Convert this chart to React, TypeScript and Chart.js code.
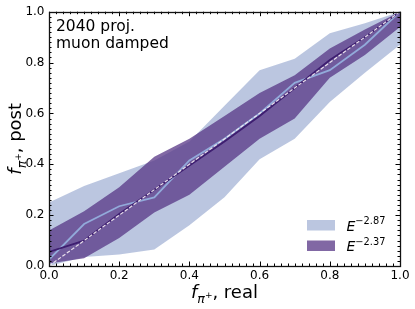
import React, { useEffect, useRef } from "react";
import { Chart, registerables } from "chart.js";

Chart.register(...registerables);

// ---- data ----
const realFraction = [0, 0.1, 0.2, 0.3, 0.4, 0.5, 0.6, 0.7, 0.8, 0.9, 1.0];
const softLower = [0.0, 0.035, 0.045, 0.065, 0.16, 0.27, 0.42, 0.5, 0.645, 0.76, 0.87];
const softUpper = [0.25, 0.315, 0.365, 0.415, 0.49, 0.63, 0.77, 0.815, 0.915, 0.955, 1.0];
const softMedian = [0.025, 0.165, 0.235, 0.27, 0.415, 0.5, 0.6, 0.72, 0.77, 0.87, 1.0];
const hardLower = [0.01, 0.03, 0.11, 0.21, 0.28, 0.39, 0.5, 0.58, 0.74, 0.83, 0.94];
const hardUpper = [0.14, 0.215, 0.31, 0.43, 0.5, 0.59, 0.68, 0.75, 0.855, 0.93, 1.0];
const hardMedian = [0.055, 0.1, 0.205, 0.3, 0.395, 0.49, 0.59, 0.7, 0.81, 0.9, 1.0];
const diagonalX = [0, 1];
const diagonalY = [0, 1];
const tickValues = [0, 0.2, 0.4, 0.6, 0.8, 1.0];
const minorStep = 0.02;
const legendBase = ["E", "E"];
const legendExponent = ["\u22122.87", "\u22122.37"];
const annotationLines = ["2040 proj.", "muon damped"];

const FONT = "'DejaVu Sans', sans-serif";
const LIGHT = "rgba(141,160,203,0.6)";
const DARK = "rgba(90,56,136,0.76)";

type Seg = { t: string; size: number; italic?: boolean; dy?: number };

function segFont(s: Seg) {
  return `${s.italic ? "italic " : ""}${s.size}px ${FONT}`;
}

function drawSegs(ctx: CanvasRenderingContext2D, segs: Seg[], x: number, y: number, align: "left" | "center") {
  let total = 0;
  for (const s of segs) {
    ctx.font = segFont(s);
    total += ctx.measureText(s.t).width;
  }
  let cx = align === "center" ? x - total / 2 : x;
  ctx.textAlign = "left";
  ctx.textBaseline = "alphabetic";
  for (const s of segs) {
    ctx.font = segFont(s);
    ctx.fillText(s.t, cx, y + (s.dy || 0));
    cx += ctx.measureText(s.t).width;
  }
}

const pts = (xs: number[], ys: number[]) => xs.map((x, i) => ({ x, y: ys[i] }));

const overlay = {
  id: "overlay",
  afterDatasetsDraw(chart: any) {
    const { ctx, chartArea: a, scales } = chart;
    const xs = scales.x;
    const ys = scales.y;
    ctx.save();
    ctx.strokeStyle = "#000";
    ctx.lineWidth = 1;
    const nMinor = Math.round(1 / minorStep);
    ctx.beginPath();
    for (let i = 0; i <= nMinor; i++) {
      const v = i * minorStep;
      const isMajor = tickValues.some((t) => Math.abs(t - v) < 1e-6);
      const len = isMajor ? 4.5 : 2.5;
      const px = Math.round(xs.getPixelForValue(v)) + 0.5;
      ctx.moveTo(px, a.bottom);
      ctx.lineTo(px, a.bottom - len);
      ctx.moveTo(px, a.top);
      ctx.lineTo(px, a.top + len);
      const py = Math.round(ys.getPixelForValue(v)) + 0.5;
      ctx.moveTo(a.left, py);
      ctx.lineTo(a.left + len, py);
      ctx.moveTo(a.right, py);
      ctx.lineTo(a.right - len, py);
    }
    ctx.stroke();
    ctx.lineWidth = 1.3;
    ctx.strokeStyle = "#111";
    ctx.strokeRect(Math.round(a.left) + 0.5, Math.round(a.top) + 0.5, Math.round(a.right - a.left), Math.round(a.bottom - a.top));
    ctx.restore();
  },
  afterDraw(chart: any) {
    const { ctx, chartArea: a } = chart;
    ctx.save();
    ctx.fillStyle = "#000";
    // annotation
    ctx.font = `15.5px ${FONT}`;
    ctx.textAlign = "left";
    ctx.textBaseline = "alphabetic";
    ctx.fillText(annotationLines[0], a.left + 7, a.top + 19);
    ctx.fillText(annotationLines[1], a.left + 7, a.top + 36);

    // x title
    const xt: Seg[] = [
      { t: "f", size: 18, italic: true },
      { t: "\u03c0", size: 12.5, italic: true, dy: 5 },
      { t: "+", size: 9, dy: 0 },
      { t: ", real", size: 18 },
    ];
    drawSegs(ctx, xt, (a.left + a.right) / 2, 297.5, "center");

    // y title
    ctx.save();
    ctx.translate(21, (a.top + a.bottom) / 2);
    ctx.rotate(-Math.PI / 2);
    const yt: Seg[] = [
      { t: "f", size: 18, italic: true },
      { t: "\u03c0", size: 12.5, italic: true, dy: 5 },
      { t: "+", size: 9, dy: 0 },
      { t: ", post", size: 18 },
    ];
    drawSegs(ctx, yt, 0, 0, "center");
    ctx.restore();

    // legend
    const colors = [chart.data.datasets[1].backgroundColor, chart.data.datasets[3].backgroundColor];
    const rowTop = [220, 240.5];
    for (let i = 0; i < 2; i++) {
      ctx.fillStyle = colors[i];
      ctx.fillRect(307, rowTop[i], 28, 10.5);
      ctx.fillStyle = "#000";
      drawSegs(
        ctx,
        [
          { t: legendBase[i], size: 14, italic: true },
          { t: legendExponent[i], size: 9.8, dy: -6.5 },
        ],
        346.5,
        rowTop[i] + 10.5,
        "left"
      );
    }
    ctx.restore();
  },
};

export default function App() {
  const ref = useRef<HTMLCanvasElement | null>(null);
  useEffect(() => {
    if (!ref.current) return;
    Chart.defaults.font.family = FONT;
    const chart = new Chart(ref.current, {
      type: "line",
      data: {
        datasets: [
          { data: pts(realFraction, softUpper), borderWidth: 0, borderColor: "transparent", pointRadius: 0, fill: false, order: 10, backgroundColor: LIGHT },
          { data: pts(realFraction, softLower), borderWidth: 0, borderColor: "transparent", pointRadius: 0, fill: "-1", order: 10, backgroundColor: LIGHT },
          { data: pts(realFraction, hardUpper), borderWidth: 0, borderColor: "transparent", pointRadius: 0, fill: false, order: 8, backgroundColor: DARK },
          { data: pts(realFraction, hardLower), borderWidth: 0, borderColor: "transparent", pointRadius: 0, fill: "-1", order: 8, backgroundColor: DARK },
          { data: pts(realFraction, softMedian), borderWidth: 1.8, borderColor: "rgb(146,170,218)", pointRadius: 0, fill: false, order: 5 },
          { data: pts(realFraction, hardMedian), borderWidth: 1.8, borderColor: "rgb(62,30,112)", pointRadius: 0, fill: false, order: 4 },
          { data: pts(diagonalX, diagonalY), borderWidth: 1.2, borderColor: "rgba(240,232,240,0.95)", borderDash: [3.7, 1.8], pointRadius: 0, fill: false, order: 1 },
        ],
      } as any,
      options: {
        responsive: false,
        animation: false,
        layout: { padding: { left: 0, right: 15, top: 10, bottom: 0 } },
        plugins: { legend: { display: false }, tooltip: { enabled: false } },
        elements: { line: { tension: 0 } },
        scales: {
          x: {
            type: "linear",
            min: 0,
            max: 1,
            grid: { display: false, drawTicks: false },
            border: { display: false },
            afterBuildTicks: (s: any) => {
              s.ticks = tickValues.map((v) => ({ value: v }));
            },
            afterFit: (s: any) => {
              s.height = 43;
            },
            ticks: {
              padding: 3,
              color: "#000",
              font: { size: 12, family: FONT },
              maxRotation: 0,
              callback: (v: any) => Number(v).toFixed(1),
            },
          },
          y: {
            type: "linear",
            min: 0,
            max: 1,
            grid: { display: false, drawTicks: false },
            border: { display: false },
            afterBuildTicks: (s: any) => {
              s.ticks = tickValues.map((v) => ({ value: v }));
            },
            afterFit: (s: any) => {
              s.width = 49;
            },
            ticks: {
              padding: 4.5,
              color: "#000",
              font: { size: 12, family: FONT },
              callback: (v: any) => Number(v).toFixed(1),
            },
          },
        },
      } as any,
      plugins: [overlay],
    });
    return () => chart.destroy();
  }, []);
  return (
    <div style={{ position: "absolute", left: 0, top: 0, width: 415, height: 309, background: "#fff" }}>
      <canvas ref={ref} width={415} height={309} style={{ display: "block" }} />
    </div>
  );
}
